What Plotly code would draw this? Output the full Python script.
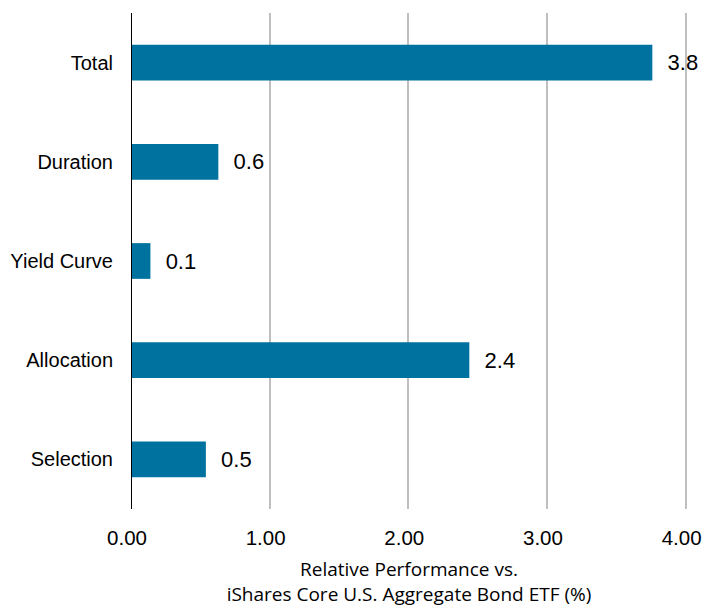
import plotly.graph_objects as go

categories = ["Total", "Duration", "Yield Curve", "Allocation", "Selection"]
values = [3.76, 0.63, 0.14, 2.44, 0.54]
value_labels = ["3.8", "0.6", "0.1", "2.4", "0.5"]
x_ticks = [0, 1, 2, 3, 4]
x_tick_labels = ["0.00", "1.00", "2.00", "3.00", "4.00"]

fig = go.Figure(go.Bar(
    y=categories,
    x=values,
    orientation="h",
    marker=dict(color="#00729F", line=dict(width=0)),
    width=0.36,
    text=["  " + t for t in value_labels],
    textposition="outside",
    textfont=dict(family="Liberation Sans, Arial", size=22, color="#000000"),
    cliponaxis=False,
))

fig.update_layout(
    width=704, height=607,
    margin=dict(l=131, r=17, t=13, b=98),
    paper_bgcolor="white", plot_bgcolor="white",
    showlegend=False,
    xaxis=dict(
        range=[0, 4.01], tickvals=x_ticks, ticktext=x_tick_labels,
        showgrid=True, gridcolor="#BFBFBF", gridwidth=2,
        zeroline=False, showline=False, automargin=False,
        ticklabeloverflow="allow", ticklabelshift=-4,
        tickfont=dict(family="Liberation Sans, Arial", size=20.5, color="#000000"),
        ticks="outside", ticklen=10, tickcolor="rgba(0,0,0,0)",
        title=dict(text="Relative Performance vs.<br>iShares Core U.S. Aggregate Bond ETF (%)",
                   font=dict(family="Open Sans, Carlito, Calibri", size=19, color="#000000"),
                   standoff=20),
    ),
    yaxis=dict(
        categoryorder="array", categoryarray=categories[::-1],
        autorange=False, range=[-0.5, 4.5],
        showgrid=False, zeroline=False, automargin=False,
        showline=False,
        tickfont=dict(family="Liberation Sans, Arial", size=20, color="#000000"),
        ticks="outside", ticklen=13, tickcolor="rgba(0,0,0,0)",
    ),
    shapes=[dict(type="line", xref="x", yref="paper", x0=0, x1=0, y0=0, y1=1,
                 line=dict(color="#000000", width=2))],
    bargap=0.64,
)

fig.write_html("out.html", config={"displayModeBar": False},
               post_script="document.body.style.margin='0';")
